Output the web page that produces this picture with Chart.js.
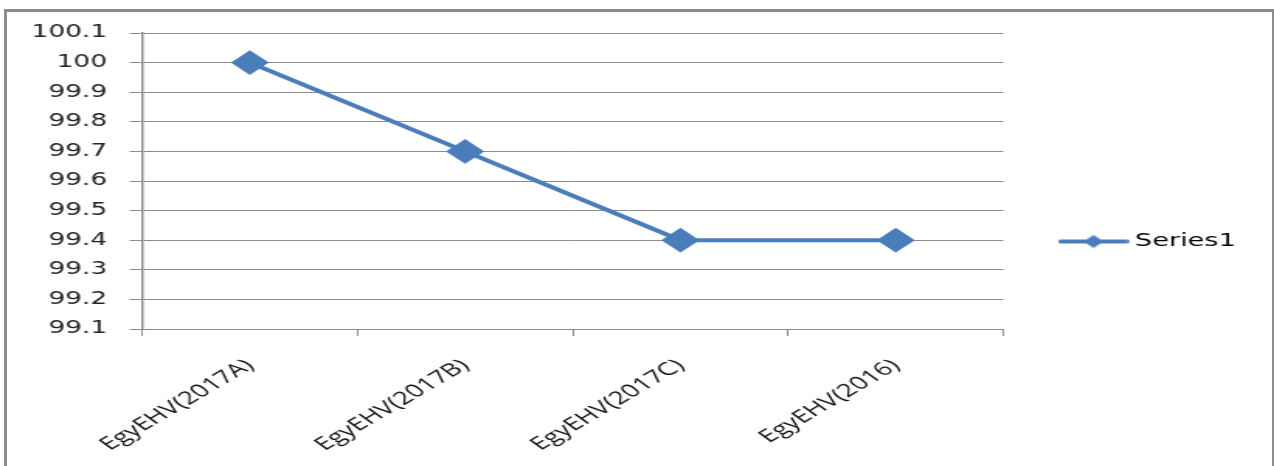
<!DOCTYPE html>
<html>
<head>
<meta charset="utf-8">
<script src="https://cdn.jsdelivr.net/npm/chart.js@4/dist/chart.umd.min.js"></script>
<style>
  html, body { margin: 0; padding: 0; background: #fff; overflow: hidden; }
  #frame {
    position: absolute; left: 4px; top: 9px; width: 1265px; height: 480px;
    border: 3px solid #8c8c8c; border-bottom: none;
  }
  /* the reference picture is stretched sideways, so the chart is drawn narrow and scaled */
  #wrap {
    position: absolute; left: 0; top: 0; width: 821.9px; height: 466px;
    transform: scaleX(1.55); transform-origin: 0 0;
  }
</style>
</head>
<body>
<div id="frame"></div>
<div id="wrap"><canvas id="line-chart"></canvas></div>
<script>
const categories = ["EgyEHV(2017A)", "EgyEHV(2017B)", "EgyEHV(2017C)", "EgyEHV(2016)"];
const series1 = [100, 99.7, 99.4, 99.4];
const yTickLabels = ["99.1", "99.2", "99.3", "99.4", "99.5", "99.6", "99.7", "99.8", "99.9", "100", "100.1"];

const blue = "#4A7EBB";
const gray = "#8c8c8c";

// legend symbol: short line with a diamond on it
const legendIcon = document.createElement("canvas");
legendIcon.width = 46;
legendIcon.height = 14;
const ic = legendIcon.getContext("2d");
ic.strokeStyle = blue;
ic.lineWidth = 4;
ic.lineCap = "round";
ic.beginPath();
ic.moveTo(2, 7);
ic.lineTo(44, 7);
ic.stroke();
ic.fillStyle = blue;
ic.beginPath();
ic.moveTo(23, 0.5);
ic.lineTo(29.5, 7);
ic.lineTo(23, 13.5);
ic.lineTo(16.5, 7);
ic.closePath();
ic.fill();

const ctx = document.getElementById("line-chart").getContext("2d");
new Chart(ctx, {
    type: "line",
    data: {
        labels: categories,
        datasets: [{
            label: "Series1",
            data: series1,
            borderColor: blue,
            backgroundColor: blue,
            borderWidth: 4,
            pointStyle: "rectRot",
            pointRadius: 9.5,
            pointHoverRadius: 9.5,
            tension: 0,
        }],
    },
    options: {
        responsive: true,
        maintainAspectRatio: false,
        animation: false,
        events: [],
        layout: { padding: { top: 33, right: 15.6, left: 0, bottom: 16 } },
        plugins: {
            tooltip: { enabled: false },
            legend: {
                position: "right",
                labels: {
                    usePointStyle: true,
                    pointStyleWidth: 36,
                    padding: 40,
                    color: "#222",
                    font: { family: "DejaVu Sans", size: 17.5 },
                    generateLabels: (chart) => chart.data.datasets.map((ds, i) => ({
                        text: ds.label,
                        pointStyle: legendIcon,
                        fillStyle: blue,
                        strokeStyle: blue,
                        lineWidth: 0,
                        datasetIndex: i,
                        hidden: false,
                    })),
                },
            },
        },
        scales: {
            x: {
                offset: true,
                grid: {
                    offset: true,
                    drawOnChartArea: false,
                    drawTicks: true,
                    tickLength: 7,
                    color: gray,
                },
                border: { display: true, color: gray },
                ticks: {
                    minRotation: 42,
                    maxRotation: 42,
                    autoSkip: false,
                    padding: 19,
                    color: "#111",
                    font: { family: "Open Sans", size: 18 },
                },
                afterFit: (scale) => { scale.height = 121; },
            },
            y: {
                min: 99.1,
                max: 100.1,
                grid: { color: gray, tickLength: 8 },
                border: { display: true, color: gray, width: 1.5 },
                ticks: {
                    stepSize: 0.1,
                    padding: 14.6,
                    color: "#222",
                    font: { family: "DejaVu Sans", size: 17 },
                    callback: (value, index) => yTickLabels[index],
                },
                afterFit: (scale) => { scale.width = 91.6; },
            },
        },
    },
});
</script>
</body>
</html>
